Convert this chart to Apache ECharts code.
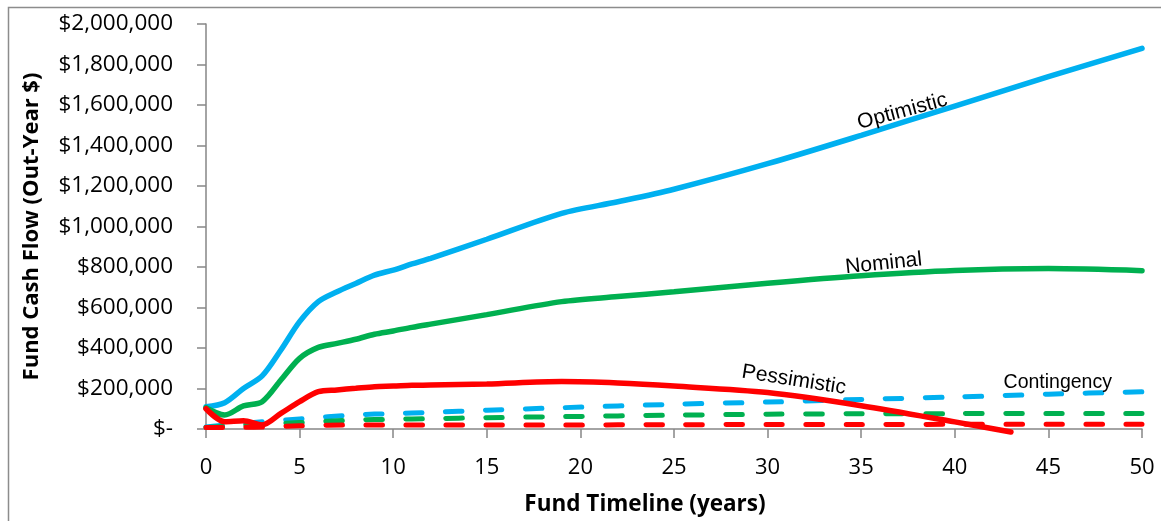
<!DOCTYPE html>
<html><head><meta charset="utf-8">
<script src="https://cdn.jsdelivr.net/npm/echarts@6/dist/echarts.min.js"></script>
<style>html,body{margin:0;padding:0;background:#fff}#c{width:1161px;height:521px}</style>
</head><body><div id="c"></div>
<script>
// ---- data ----
const yearsMain = [0,1,2,3,4,5,6,7,8,9,10,11,12,15,19,22,25,30,35,40,45,50];
const optimistic = [110000,130000,200000,262000,390000,530000,629000,678000,719000,760000,785000,815000,843000,937000,1065000,1122000,1184000,1310000,1450000,1595000,1740000,1880000];
const nominal = [105000,69000,114000,135000,242000,349000,403000,423000,443000,468000,484000,502000,518000,565000,629000,654000,678000,720000,757000,783000,792000,782000];
const yearsPess = [0,1,2,3,4,5,6,7,8,9,10,11,12,15,19,22,25,30,35,40,43];
const pessimistic = [100000,36000,41000,20000,77000,135000,184000,193000,201000,209000,212000,216000,217000,222000,234000,227000,212000,180000,115000,35000,-15000];
const yearsCont = [0,2,5,8,10,12,15,19,25,30,35,40,45,50];
const contOptimistic = [10000,28000,50000,70000,76000,82000,93000,105000,122000,133000,146000,158000,172000,184000];
const contNominal = [8000,18000,32000,44000,48000,51000,56000,61000,68000,73000,75000,76000,77000,77000];
const contPessimistic = [8000,8000,16000,20000,20000,20000,20000,20000,21000,22000,22000,23000,23000,23000];
const xTickLabels = ['0','5','10','15','20','25','30','35','40','45','50'];
const yTickLabels = ['$-','$200,000','$400,000','$600,000','$800,000','$1,000,000','$1,200,000','$1,400,000','$1,600,000','$1,800,000','$2,000,000'];
const curveLabels = ['Optimistic','Nominal','Pessimistic','Contingency'];

const BLUE = '#00B0F0', GREEN = '#00B050', RED = '#FF0000';
const pairs = (xs, ys) => xs.map((x, i) => [x, ys[i]]);

const chart = echarts.init(document.getElementById('c'), null, {renderer: 'canvas'});
const dashed = (name, xs, ys, color) => ({
  name, type: 'line', data: pairs(xs, ys), smooth: 0.3, symbol: 'none',
  lineStyle: {color, width: 5, type: [16.5, 23.5], cap: 'round'}, z: 2
});
const solid = (name, xs, ys, color, z) => ({
  name, type: 'line', data: pairs(xs, ys), smooth: 0.3, symbol: 'none', clip: false,
  lineStyle: {color, width: 5.5, cap: 'round'}, z
});

chart.setOption({
  animation: false,
  backgroundColor: '#fff',
  grid: {left: 206, right: 19, top: 24, bottom: 92},
  xAxis: {
    type: 'value', min: 0, max: 50, interval: 5,
    name: 'Fund Timeline (years)', nameLocation: 'middle', nameGap: 64,
    nameTextStyle: {fontFamily: 'Open Sans', fontWeight: 'bold', fontSize: 22.5, color: '#000',
      padding: [0, 58, 0, 0]},
    axisLine: {show: true, onZero: false, lineStyle: {color: '#868686', width: 1.5}},
    axisTick: {show: true, length: 9, lineStyle: {color: '#868686', width: 1.5}},
    axisLabel: {margin: 28, fontFamily: 'Open Sans', fontSize: 22, color: '#000',
      formatter: v => xTickLabels[Math.round(v / 5)]},
    splitLine: {show: false}
  },
  yAxis: {
    type: 'value', min: 0, max: 2000000, interval: 200000,
    name: 'Fund Cash Flow (Out-Year $)', nameLocation: 'middle', nameGap: 163,
    nameTextStyle: {fontFamily: 'Open Sans', fontWeight: 'bold', fontSize: 22, color: '#000'},
    axisLine: {show: true, lineStyle: {color: '#868686', width: 1.5}},
    axisTick: {show: true, length: 9, lineStyle: {color: '#868686', width: 1.5}},
    axisLabel: {margin: 33, fontFamily: 'Open Sans', fontSize: 22.5, color: '#000',
      formatter: v => yTickLabels[Math.round(v / 200000)]},
    splitLine: {show: false}
  },
  series: [
    dashed('Optimistic Contingency', yearsCont, contOptimistic, BLUE),
    dashed('Nominal Contingency', yearsCont, contNominal, GREEN),
    dashed('Pessimistic Contingency', yearsCont, contPessimistic, RED),
    solid('Optimistic', yearsMain, optimistic, BLUE, 3),
    solid('Nominal', yearsMain, nominal, GREEN, 4),
    solid('Pessimistic', yearsPess, pessimistic, RED, 5)
  ]
});

// curve labels placed in data coordinates
const at = (x, y) => chart.convertToPixel({gridIndex: 0}, [x, y]);
const lab = (text, p, rotDeg, size) => ({
  type: 'text', x: p[0], y: p[1], rotation: rotDeg * Math.PI / 180, silent: true, z: 20,
  style: {text, fill: '#000', font: size + 'px "Liberation Sans"', align: 'center', verticalAlign: 'middle'}
});
chart.setOption({
  graphic: [
    {type: 'rect', silent: true, shape: {x: 8.5, y: 7.5, width: 1300, height: 700},
      style: {fill: 'none', stroke: '#8c8c8c', lineWidth: 1.5}},
    lab(curveLabels[0], at(37.2, 1568000), 15, 21),
    lab(curveLabels[1], at(36.2, 817000), 6, 21),
    lab(curveLabels[2], at(31.4, 242000), -9, 21),
    lab(curveLabels[3], at(45.5, 227000), 0, 19.5)
  ]
});
</script></body></html>
